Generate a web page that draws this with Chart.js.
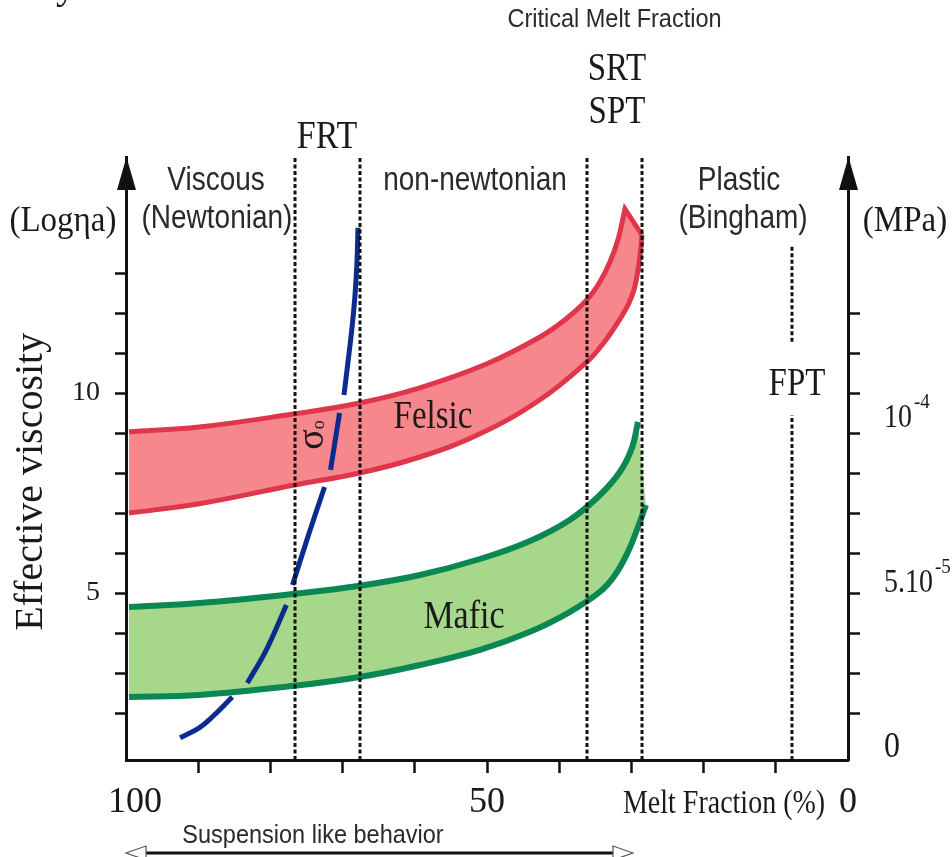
<!DOCTYPE html>
<html>
<head>
<meta charset="utf-8">
<script src="https://cdn.jsdelivr.net/npm/chart.js@4.4.1/dist/chart.umd.min.js"></script>
<style>
  html, body { margin: 0; padding: 0; background: #fff; }
  #wrap { position: relative; width: 952px; height: 857px; }
</style>
</head>
<body>
<div id="wrap"><canvas id="chart"></canvas></div>
<script>
// x = melt fraction (%), y = log effective viscosity
const yMin = 0.825, yMax = 15.9;
const xLabelValues = [100, 50, 0];
const yTickValues = [2, 3, 4, 5, 6, 7, 8, 9, 10, 11, 12, 13];
const yRightTickValues = [2, 3, 4, 5, 6, 7, 8, 9, 10, 11, 12];
const yLabelValues = [10, 5];

// right axis (MPa)
const mpaTicks = [0, 5e-5, 1e-4];
const mpaBase = ['0', '5.10', '10'];
const mpaExp = ['', '-5', '-4'];

// Felsic band
const felsicTopMelt = [99.58, 89.86, 76.67, 67.64, 59.31, 50.0, 42.66, 39.2, 36.15, 34.35, 32.96, 31.86, 30.89];
const felsicTopVisc = [9.03, 9.15, 9.48, 9.75, 10.13, 10.73, 11.4, 11.83, 12.33, 12.78, 13.28, 13.83, 14.6];
const felsicBottomMelt = [99.58, 89.86, 76.67, 67.64, 59.31, 50.97, 42.66, 36.15, 34.07, 32.55, 31.3, 30.33, 29.64, 29.22, 28.81, 28.53];
const felsicBottomVisc = [7.0, 7.23, 7.7, 8.0, 8.4, 8.98, 9.83, 10.78, 11.2, 11.58, 11.93, 12.25, 12.58, 12.93, 13.43, 13.95];

// Mafic band
const maficTopMelt = [99.58, 89.86, 76.67, 67.64, 59.28, 50.97, 44.04, 38.5, 34.35, 31.58, 29.92, 29.09];
const maficTopVisc = [4.65, 4.75, 4.98, 5.18, 5.45, 5.85, 6.3, 6.83, 7.45, 8.03, 8.63, 9.28];
const maficBottomMelt = [99.58, 89.86, 76.67, 67.64, 59.28, 50.97, 44.04, 38.5, 34.35, 32.27, 30.47, 29.09, 27.98];
const maficBottomVisc = [2.4, 2.45, 2.68, 2.9, 3.2, 3.58, 4.03, 4.53, 5.03, 5.45, 6.03, 6.65, 7.2];

// yield strength curve (sigma o), broken where it crosses the band outlines
const sigmaMelt = [92.5, 89.86, 88.06, 85.28, null, 83.19, 80.56, 77.78, null, 76.94, 74.58, 72.5, null, 71.67, 70.42, null, 69.81, 69.25, 68.7, 68.28, 68.01, 67.87];
const sigmaVisc = [1.38, 1.63, 1.9, 2.4, null, 2.75, 3.58, 4.7, null, 5.2, 6.53, 7.65, null, 8.08, 9.5, null, 9.95, 10.78, 11.63, 12.45, 13.28, 14.13];

// transitions: FRT (two lines), SRT, SPT, FPT
const boundaryMelt = [76.59, 67.59, 36.15, 28.53];
const fptMelt = 7.76;
const fptLower = [yMin, 9.45];
const fptUpper = [11.28, 13.7];

const RED = '#e0364b', PINK = '#f6878c', GREEN = '#0a8753', LIGHTGREEN = '#a6d78b';
const BLUE = '#0c2b8e', INK = '#111111';
const SERIF = '"Liberation Serif", "Times New Roman", serif';
const SANS = '"Liberation Sans", Arial, sans-serif';
const SY = 1.2; // glyphs in the figure are a bit tall

const notes = [
  { text: 'Critical Melt Fraction', m: 32.34, v: 19.15, font: '23.5px ' + SANS, sy: 1.12 },
  { text: 'SRT', m: 32.0, v: 17.83, font: '33px ' + SERIF },
  { text: 'SPT', m: 32.0, v: 16.75, font: '33px ' + SERIF },
  { text: 'FRT', m: 72.16, v: 16.13, font: '34px ' + SERIF },
  { text: 'Viscous', m: 87.53, v: 15.08, font: '28px ' + SANS },
  { text: '(Newtonian)', m: 87.4, v: 14.13, font: '28px ' + SANS },
  { text: 'non-newtonian', m: 51.66, v: 15.08, font: '28px ' + SANS },
  { text: 'Plastic', m: 15.1, v: 15.08, font: '28px ' + SANS },
  { text: '(Bingham)', m: 14.54, v: 14.13, font: '28px ' + SANS },
  { text: '(MPa)', m: -7.89, v: 14.05, font: '33px ' + SERIF, sy: 1.1 },
  { text: '(Log\u03b7a)', m: 108.73, v: 14.05, font: '33px ' + SERIF, sy: 1.1 },
  { text: 'Felsic', m: 57.48, v: 9.13, font: '33px ' + SERIF },
  { text: 'Mafic', m: 53.19, v: 4.13, font: '34px ' + SERIF },
  { text: 'FPT', m: 7.06, v: 9.95, font: '33px ' + SERIF },
  { text: 'Melt Fraction (%)', m: 17.17, v: -0.5, font: '28px ' + SERIF },
  { text: 'Suspension like behavior', m: 74.1, v: -1.25, font: '23.5px ' + SANS, sy: 1.1 },
  { text: 'y', m: 108.3, v: 19.88, font: '40px ' + SERIF, sy: 1 }
];

const pts = (xs, ys) => xs.map((x, i) => ({ x: x, y: ys[i] }));
const last = arr => arr[arr.length - 1];

function drawText(ctx, str, x, y, font, sy, align) {
  ctx.save();
  ctx.translate(x, y);
  ctx.scale(1, sy);
  ctx.font = font;
  ctx.textAlign = align || 'center';
  ctx.textBaseline = 'alphabetic';
  ctx.fillText(str, 0, 0);
  ctx.restore();
}

const decor = {
  id: 'decor',
  afterDraw(chart) {
    const { ctx, chartArea: a, scales } = chart;
    const X = m => scales.x.getPixelForValue(m);
    const Y = v => scales.y.getPixelForValue(v);
    ctx.save();

    // arrow heads on top of both vertical axes
    ctx.fillStyle = INK;
    [a.left, a.right].forEach(x0 => {
      ctx.beginPath();
      ctx.moveTo(x0 + 0.5, a.top);
      ctx.lineTo(x0 - 9, a.top + 33);
      ctx.lineTo(x0 + 10, a.top + 33);
      ctx.closePath();
      ctx.fill();
    });

    // right axis labels in MPa
    ctx.fillStyle = '#1a1a1a';
    mpaTicks.forEach((val, i) => {
      const y = scales.mpa.getPixelForValue(val);
      const x = a.right + 36;
      const big = mpaBase[i] === '0';
      const f = (big ? 32 : 28) + 'px ' + SERIF;
      drawText(ctx, mpaBase[i], x, y, f, big ? 1.1 : SY, 'left');
      if (mpaExp[i]) {
        ctx.font = f;
        const w = ctx.measureText(mpaBase[i]).width;
        drawText(ctx, mpaExp[i], x + w + 2, y - 19, '19px ' + SERIF, 1.1, 'left');
      }
    });

    // annotations
    notes.forEach(n => {
      ctx.fillStyle = n.font.indexOf('Sans') >= 0 ? '#2a2a2a' : '#1a1a1a';
      drawText(ctx, n.text, X(n.m), Y(n.v), n.font, n.sy || SY, 'center');
    });

    // rotated axis title
    ctx.fillStyle = '#1a1a1a';
    ctx.save();
    ctx.translate(X(111.63), Y(7.78));
    ctx.rotate(-Math.PI / 2);
    ctx.font = '40px ' + SERIF;
    ctx.textAlign = 'center';
    ctx.textBaseline = 'alphabetic';
    ctx.fillText('Effective viscosity', 0, 0);
    ctx.restore();

    // sigma o label along the yield curve
    ctx.save();
    ctx.translate(X(72.71), Y(8.58));
    ctx.rotate(-Math.PI / 2);
    ctx.textAlign = 'left';
    ctx.textBaseline = 'alphabetic';
    ctx.font = '38px ' + SERIF;
    ctx.fillText('\u03c3', 0, 0);
    const sw = ctx.measureText('\u03c3').width;
    ctx.font = '18px ' + SERIF;
    ctx.fillText('o', sw, 1);
    ctx.restore();

    // suspension-like behaviour double arrow
    const ay = Y(-1.5), ax0 = X(100), ax1 = X(29.78);
    ctx.strokeStyle = INK;
    ctx.lineWidth = 3;
    ctx.beginPath();
    ctx.moveTo(ax0 + 20, ay);
    ctx.lineTo(ax1 - 20, ay);
    ctx.stroke();
    ctx.strokeStyle = '#555';
    ctx.lineWidth = 1.2;
    ctx.fillStyle = '#fff';
    [[ax0, 1], [ax1, -1]].forEach(([tx, d]) => {
      ctx.beginPath();
      ctx.moveTo(tx, ay);
      ctx.lineTo(tx + d * 20, ay - 7);
      ctx.lineTo(tx + d * 20, ay + 7);
      ctx.closePath();
      ctx.fill();
      ctx.stroke();
    });
    ctx.restore();
  }
};

const lineBase = { pointRadius: 0, tension: 0.4, fill: false };
const dashed = { pointRadius: 0, tension: 0, fill: false, borderColor: INK, borderWidth: 3, borderDash: [4, 2.5], order: 1 };

// the tip point is repeated so the curve meets the closing edge at a sharp corner
const felsicOutlineMelt = felsicTopMelt.concat(last(felsicTopMelt), last(felsicBottomMelt));
const felsicOutlineVisc = felsicTopVisc.concat(last(felsicTopVisc), last(felsicBottomVisc));
const maficOutlineMelt = maficTopMelt.concat(last(maficTopMelt), last(maficBottomMelt));
const maficOutlineVisc = maficTopVisc.concat(last(maficTopVisc), last(maficBottomVisc));

const datasets = [
  // 0: mafic area (top outline closed to the lower end point)
  { ...lineBase, label: 'Mafic area', data: pts(maficOutlineMelt, maficOutlineVisc),
    borderColor: 'rgba(0,0,0,0)', borderWidth: 0, backgroundColor: LIGHTGREEN, fill: 2, order: 10 },
  // 1, 2: mafic outlines
  { ...lineBase, label: 'Mafic top', data: pts(maficTopMelt, maficTopVisc), borderColor: GREEN, borderWidth: 6, order: 9 },
  { ...lineBase, label: 'Mafic bottom', data: pts(maficBottomMelt, maficBottomVisc), borderColor: GREEN, borderWidth: 6, order: 8 },
  // 3, 4: felsic band, top outline runs round the tip to the lower end
  { ...lineBase, label: 'Felsic top', data: pts(felsicOutlineMelt, felsicOutlineVisc),
    borderColor: RED, borderWidth: 5, backgroundColor: PINK, fill: 4, order: 7 },
  { ...lineBase, label: 'Felsic bottom', data: pts(felsicBottomMelt, felsicBottomVisc), borderColor: RED, borderWidth: 5, order: 6 },
  // 5: yield strength
  { ...lineBase, label: 'sigma o', data: pts(sigmaMelt, sigmaVisc), borderColor: BLUE, borderWidth: 5, spanGaps: false, order: 5 }
];

boundaryMelt.forEach(m => {
  datasets.push({ ...dashed, label: 'boundary', data: [{ x: m, y: yMin }, { x: m, y: yMax }] });
});
datasets.push({ ...dashed, label: 'FPT',
  data: [{ x: fptMelt, y: fptLower[0] }, { x: fptMelt, y: fptLower[1] }, { x: null, y: null },
         { x: fptMelt, y: fptUpper[0] }, { x: fptMelt, y: fptUpper[1] }] });

const tickGrid = (len, hide) => ({
  drawOnChartArea: false,
  drawTicks: true,
  tickLength: len,
  tickWidth: 2.5,
  tickColor: c => (hide && c.tick && hide.includes(c.tick.value)) ? 'rgba(0,0,0,0)' : INK
});

new Chart(document.getElementById('chart'), {
  type: 'line',
  data: { datasets: datasets },
  options: {
    responsive: true,
    maintainAspectRatio: false,
    animation: false,
    events: [],
    layout: { padding: { top: 157, left: 0, right: 0, bottom: 0 } },
    plugins: { legend: { display: false }, tooltip: { enabled: false } },
    scales: {
      x: {
        type: 'linear', reverse: true, min: 0, max: 100,
        afterFit: s => { s.height = 97; },
        border: { color: INK, width: 3 },
        grid: tickGrid(13, [0, 100]),
        ticks: {
          stepSize: 10, autoSkip: false, maxRotation: 0, padding: 8,
          color: '#1a1a1a', font: { family: SERIF, size: 36 },
          callback: v => xLabelValues.includes(v) ? (v === 100 ? '  100' : String(v)) : ''
        }
      },
      y: {
        type: 'linear', position: 'left', min: yMin, max: yMax,
        afterBuildTicks: s => { s.ticks = yTickValues.map(v => ({ value: v })); },
        afterFit: s => { s.width = 126; },
        border: { color: INK, width: 3 },
        grid: tickGrid(11),
        ticks: {
          padding: 15, color: '#1a1a1a', font: { family: SERIF, size: 28 },
          callback: v => yLabelValues.includes(v) ? String(v) : ''
        }
      },
      y2: {
        type: 'linear', position: 'right', min: yMin, max: yMax,
        afterBuildTicks: s => { s.ticks = yRightTickValues.map(v => ({ value: v })); },
        afterFit: s => { s.width = 104; },
        border: { color: INK, width: 3 },
        grid: tickGrid(12),
        ticks: { callback: () => '' }
      },
      mpa: {
        type: 'linear', position: 'right', display: false,
        min: -0.0909e-5, max: 18.18e-5
      }
    }
  },
  plugins: [decor]
});
</script>
</body>
</html>
